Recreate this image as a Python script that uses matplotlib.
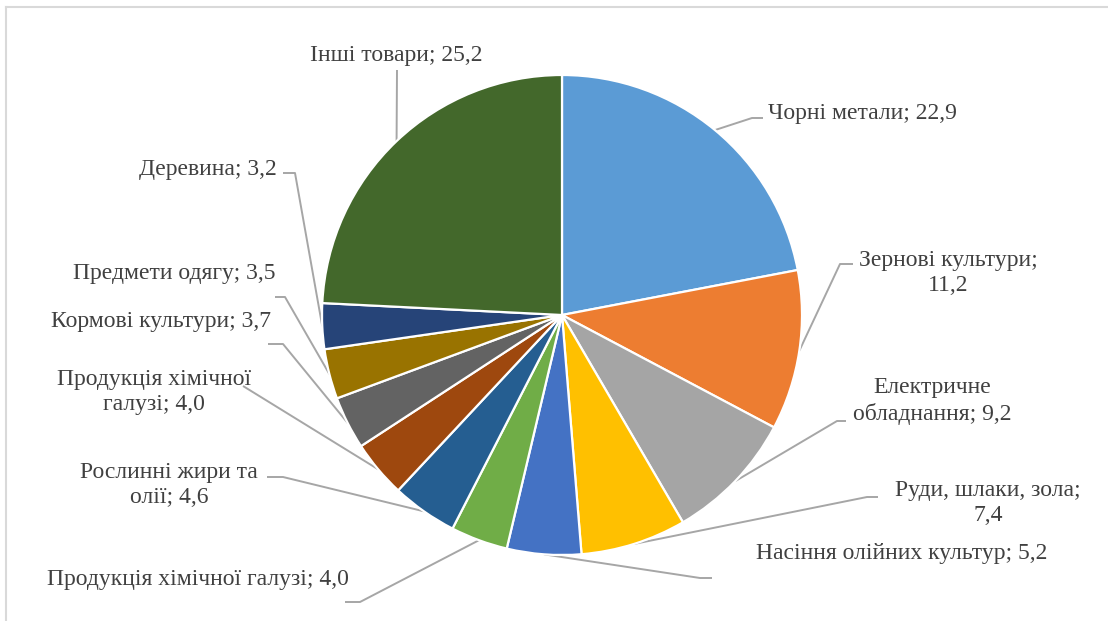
import numpy as np
import matplotlib.pyplot as plt
from matplotlib.lines import Line2D

# Data
labels = ['Чорні метали', 'Зернові культури', 'Електричне обладнання',
          'Руди, шлаки, зола', 'Насіння олійних культур',
          'Продукція хімічної галузі', 'Рослинні жири та олії',
          'Продукція хімічної галузі', 'Кормові культури', 'Предмети одягу',
          'Деревина', 'Інші товари']
values = [22.9, 11.2, 9.2, 7.4, 5.2, 4.0, 4.6, 4.0, 3.7, 3.5, 3.2, 25.2]
colors = ['#5B9BD5', '#ED7D31', '#A5A5A5', '#FFC000', '#4472C4', '#70AD47',
          '#255E91', '#9E480E', '#636363', '#997300', '#264478', '#43682B']

# label text with line breaks as in the picture
label_texts = ['Чорні метали; 22,9', 'Зернові культури;\n11,2',
               'Електричне\nобладнання; 9,2', 'Руди, шлаки, зола;\n7,4',
               'Насіння олійних культур; 5,2',
               'Продукція хімічної галузі; 4,0', 'Рослинні жири та\nолії; 4,6',
               'Продукція хімічної\nгалузі; 4,0', 'Кормові культури; 3,7',
               'Предмети одягу; 3,5', 'Деревина; 3,2', 'Інші товари; 25,2']

W, H = 1108, 621
fig = plt.figure(figsize=(W / 100, H / 100), dpi=100)
ax = fig.add_axes([0, 0, 1, 1])

cx, cy, r = 562, 315, 240

# pie drawn in a y-down axis, so go counterclockwise to look clockwise
wedges, _ = ax.pie(values, colors=colors, startangle=-90, counterclock=True,
                   center=(cx, cy), radius=r, frame=True,
                   wedgeprops=dict(edgecolor='white', linewidth=1.6))
ax.set_xlim(0, W)
ax.set_ylim(H, 0)
ax.set_aspect('equal')
ax.axis('off')

# label layout: (text x, text y, ha, elbow points from label side)
layout = [
    (768, 113, 'left', [(763, 118), (752, 118)]),
    (948, 273, 'center', [(853, 264), (840, 264)]),
    (932, 401, 'center', [(846, 421), (837, 421)]),
    (988, 503, 'center', [(878, 497), (867, 497)]),
    (902, 554, 'center', [(712, 578), (700, 578)]),
    (198, 580, 'center', [(345, 602), (360, 602)]),
    (169, 485, 'center', [(267, 477), (283, 477)]),
    (154, 392, 'center', [(243, 386)]),
    (161, 322, 'center', [(268, 344), (283, 344)]),
    (174, 274, 'center', [(275, 297), (285, 297)]),
    (208, 170, 'center', [(283, 173), (295, 173)]),
    (396, 55, 'center', [(397, 70)]),
]

line_color = '#A6A6A6'
text_color = '#404040'
for w, txt, (tx, ty, ha, pts) in zip(wedges, label_texts, layout):
    mid = np.deg2rad((w.theta1 + w.theta2) / 2)
    ax_pt = (cx + r * np.cos(mid), cy + r * np.sin(mid))
    xs = [p[0] for p in pts] + [ax_pt[0]]
    ys = [p[1] for p in pts] + [ax_pt[1]]
    ax.plot(xs, ys, color=line_color, lw=1.4, solid_capstyle='butt', zorder=0)
    ax.text(tx, ty, txt, ha=ha, va='center', fontsize=17,
            family='Liberation Serif', color=text_color, linespacing=1.3,
            multialignment='center')

# frame of the chart area
fig.add_artist(Line2D([5.5 / W, 5.5 / W], [0, 1 - 7 / H], color='#D9D9D9',
                      lw=1.5, transform=fig.transFigure))
fig.add_artist(Line2D([5.5 / W, 1], [1 - 7 / H, 1 - 7 / H], color='#D9D9D9',
                      lw=1.5, transform=fig.transFigure))

plt.savefig('out.png', dpi=100)
